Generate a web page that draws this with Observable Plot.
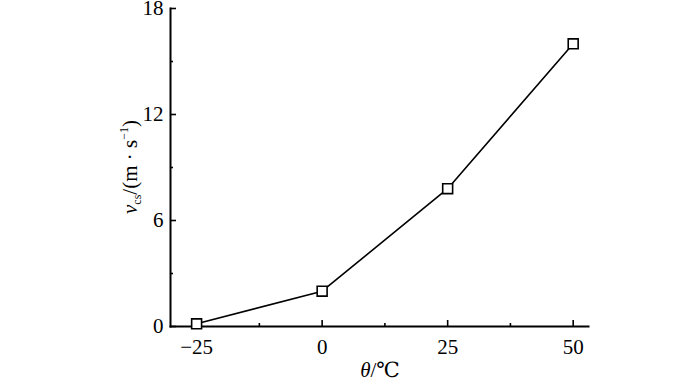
<!DOCTYPE html>
<html>
<head>
<meta charset="utf-8">
<script src="https://cdn.jsdelivr.net/npm/d3@7"></script>
<script src="https://cdn.jsdelivr.net/npm/@observablehq/plot@0.6"></script>
<style>
  html, body { margin: 0; padding: 0; background: #fff; }
  #chart { width: 700px; height: 381px; }
  #chart svg text, #chart svg tspan { font-family: "Liberation Serif", "DejaVu Serif", serif !important; }
  #chart svg g[aria-label="x-axis tick label"] text,
  #chart svg g[aria-label="y-axis tick label"] text { font-size: 21px !important; }
</style>
</head>
<body>
<div id="chart"></div>
<script>
// Data
const temperature = [-25, 0, 25, 50];          // θ / ℃
const velocity = [0.15, 2.0, 7.8, 16.0];       // v_cs / (m·s^-1)
const xTicks = [-25, 0, 25, 50];
const xMinorTicks = [-12.5, 12.5, 37.5];
const yTicks = [0, 6, 12, 18];
const yMinorTicks = [3, 9, 15];

const data = temperature.map((t, i) => ({t, v: velocity[i]}));

const W = 700, H = 381;
const mL = 170, mR = 112, mT = 8, mB = 55;
const innerW = W - mL - mR, innerH = H - mT - mB;

const plot = Plot.plot({
  width: W,
  height: H,
  marginLeft: mL,
  marginRight: mR,
  marginTop: mT,
  marginBottom: mB,
  style: "font-family: 'Liberation Serif', serif; font-size: 21px; color: #000; background: #fff; overflow: visible;",
  x: {domain: [-30.2, 53.05]},
  y: {domain: [0, 18]},
  marks: [
    Plot.axisX(xTicks, {tickSize: 0, tickPadding: 13, fontSize: 21, label: null, tickFormat: d => d < 0 ? "\u2212" + Math.abs(d) : String(d)}),
    Plot.axisY(yTicks, {tickSize: 0, tickPadding: 7, fontSize: 21, label: null}),
    // inward major ticks
    Plot.tickX(xTicks, {x: d => d, stroke: "#000", strokeWidth: 1.6, insetTop: innerH - 6}),
    Plot.tickY(yTicks, {y: d => d, stroke: "#000", strokeWidth: 1.6, insetRight: innerW - 6}),
    // inward minor ticks
    Plot.tickX(xMinorTicks, {x: d => d, stroke: "#000", strokeWidth: 1.6, insetTop: innerH - 3}),
    Plot.tickY(yMinorTicks, {y: d => d, stroke: "#000", strokeWidth: 1.6, insetRight: innerW - 3}),
    Plot.frame({anchor: "left", stroke: "#000", strokeWidth: 2}),
    Plot.frame({anchor: "bottom", stroke: "#000", strokeWidth: 2}),
    Plot.line(data, {x: "t", y: "v", stroke: "#000", strokeWidth: 1.6}),
    Plot.dot(data, {x: "t", y: "v", symbol: "square", r: 5.6, fill: "#fff", stroke: "#000", strokeWidth: 1.6})
  ]
});

document.getElementById("chart").appendChild(plot);

const svg = d3.select(plot);
// Y axis label: v_cs/(m · s^-1)
const yl = svg.append("text")
  .attr("transform", `translate(137,${mT + innerH / 2}) rotate(-90)`)
  .attr("text-anchor", "middle")
  .style("font-size", "21px")
  .attr("fill", "#000");
yl.append("tspan").style("font-style", "italic").text("v");
yl.append("tspan").style("font-size", "12px").attr("dy", 4).text("cs");
yl.append("tspan").attr("dy", -4).text("/(m \u00B7 s");
yl.append("tspan").style("font-size", "12px").attr("dy", -9).text("\u22121");
yl.append("tspan").attr("dy", 9).text(")");

// X axis label: θ/℃
const xl = svg.append("text")
  .attr("x", 380)
  .attr("y", 377)
  .attr("text-anchor", "middle")
  .style("font-size", "21px")
  .attr("fill", "#000");
xl.append("tspan").style("font-style", "italic").text("\u03B8");
xl.append("tspan").text("/\u2103");
</script>
</body>
</html>
